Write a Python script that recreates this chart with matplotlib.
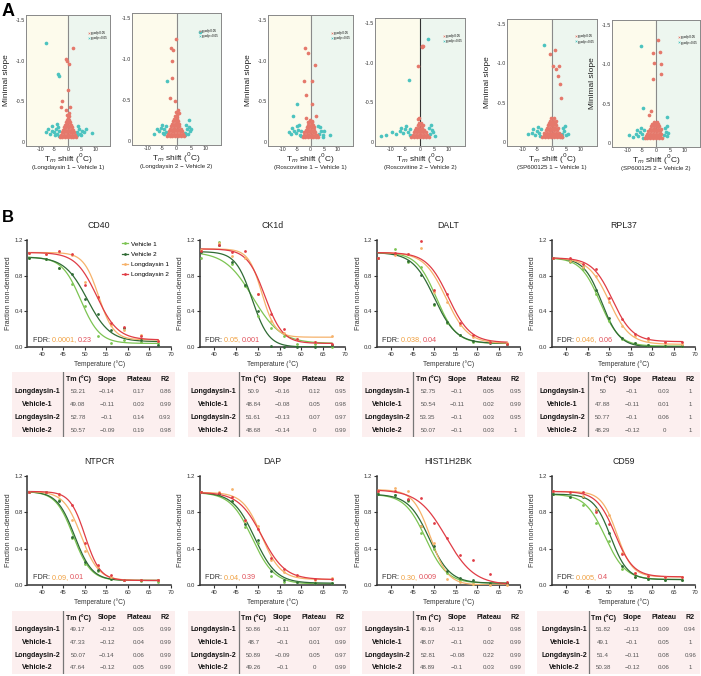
import matplotlib.pyplot as plt
import numpy as np
from matplotlib.patches import Rectangle
from matplotlib.lines import Line2D

plt.rcParams['font.family'] = ['Liberation Sans', 'DejaVu Sans']

# ---------------- panel A data (Tm shift, minimal slope) ----------------
a_subtitles = ['(Longdaysin 1 \u2212 Vehicle 1)', '(Longdaysin 2 \u2212 Vehicle 2)',
               '(Roscovitine 1 \u2212 Vehicle 1)', '(Roscovitine 2 \u2212 Vehicle 2)',
               '(SP600125 1 \u2212 Vehicle 1)', '(SP600125 2 \u2212 Vehicle 2)']
a_has_ylabel = [True, False, True, False, True, True]

a1_red_x = [-3.0, -2.1, -1.0, 0.0, 1.1, 2.0, 2.9,
            -2.5, -1.5, -0.5, 0.5, 1.5, 2.6,
            -2.3, -1.3, -0.4, 0.6, 1.6, 2.3,
            -1.9, -1.0, 0.1, 1.0, 1.9,
            -1.6, -0.6, 0.4, 1.4,
            -1.2, -0.3, 0.6, 1.2,
            -0.9, 0.0, 0.9,
            -0.5, 0.4,
            0.0, -0.2, 0.3,
            1.7, -0.7, -0.35, 0.2, -0.1, -2.1, 0.8, -2.7, -0.6, 0.2]
a1_red_y = [-0.06, -0.06, -0.06, -0.06, -0.06, -0.06, -0.06,
            -0.09, -0.09, -0.09, -0.09, -0.09, -0.09,
            -0.12, -0.12, -0.12, -0.12, -0.12, -0.12,
            -0.15, -0.15, -0.15, -0.15, -0.15,
            -0.18, -0.18, -0.18, -0.18,
            -0.21, -0.21, -0.21, -0.21,
            -0.24, -0.24, -0.24,
            -0.27, -0.27,
            -0.30, -0.33, -0.32,
            -1.16, -1.02, -1.00, -0.96, -0.64, -0.50, -0.43, -0.43, -0.39, -0.35]
a1_teal_x = [-8.2, -7.3, -6.5, -5.8, -5.0, -4.4, -3.9, -3.5, -6.0, -4.8, -3.6, -4.1,
             3.4, 3.9, 4.5, 5.2, 6.0, 6.8, 3.6, 4.8, 8.9, -3.3, 3.2, -8.1, -3.8, -3.5]
a1_teal_y = [-0.12, -0.16, -0.10, -0.14, -0.12, -0.16, -0.10, -0.14, -0.19, -0.08, -0.18, -0.22,
             -0.12, -0.16, -0.10, -0.14, -0.12, -0.16, -0.20, -0.08, -0.11, -0.07, -0.08, -1.21, -0.83, -0.81]

a2_red_x = [-3.4, -2.4, -1.4, -0.4, 0.6, 1.6, 2.5,
            -2.9, -1.9, -0.9, 0.1, 1.1, 2.1,
            -2.6, -1.7, -0.8, 0.2, 1.2, 2.0,
            -2.2, -1.3, -0.4, 0.5, 1.4,
            -1.8, -0.9, 0.0, 0.9,
            -1.5, -0.6, 0.3, 0.8,
            -1.1, -0.3, 0.5,
            -0.8, 0.1,
            -0.4, 0.2, -0.1,
            -0.2, -2.0, -1.2, -1.6, -1.4, -2.3, -0.5, 0.6, 0.9, 0.1]
a2_red_y = [-0.06, -0.06, -0.06, -0.06, -0.06, -0.06, -0.06,
            -0.09, -0.09, -0.09, -0.09, -0.09, -0.09,
            -0.12, -0.12, -0.12, -0.12, -0.12, -0.12,
            -0.15, -0.15, -0.15, -0.15, -0.15,
            -0.18, -0.18, -0.18, -0.18,
            -0.21, -0.21, -0.21, -0.21,
            -0.24, -0.24, -0.24,
            -0.27, -0.27,
            -0.30, -0.32, -0.35,
            -1.24, -1.13, -1.11, -0.98, -0.77, -0.52, -0.49, -0.38, -0.34, -0.29]
a2_teal_x = [-7.8, -6.2, -5.5, -4.8, -4.2, -3.8, -5.0, -6.8, -4.5, 3.0, 3.6, 4.1, 4.8,
             3.3, 4.4, -3.6, 2.8, 5.2, 8.3, -3.2, 4.2]
a2_teal_y = [-0.08, -0.12, -0.16, -0.10, -0.14, -0.18, -0.20, -0.14, -0.08, -0.10, -0.14, -0.08, -0.12,
             -0.19, -0.17, -0.11, -0.07, -0.15, -1.33, -0.73, -0.25]

a3_red_x = [-2.8, -1.9, -0.9, 0.1, 1.0, 2.0, 2.8,
            -2.4, -1.4, -0.4, 0.6, 1.6, 2.4,
            -2.2, -1.2, -0.2, 0.8, 1.7,
            -1.8, -0.8, 0.2, 1.2,
            -1.4, -0.4, 0.6, 1.3,
            -1.0, 0.0, 0.9,
            -0.6, 0.4,
            -0.2, 0.6, -0.9,
            -2.1, -1.0, 1.8, -2.4, 0.45, -1.5, 0.4, 1.9, -1.5]
a3_red_y = [-0.06, -0.06, -0.06, -0.06, -0.06, -0.06, -0.06,
            -0.09, -0.09, -0.09, -0.09, -0.09, -0.09,
            -0.12, -0.12, -0.12, -0.12, -0.12,
            -0.15, -0.15, -0.15, -0.15,
            -0.18, -0.18, -0.18, -0.18,
            -0.21, -0.21, -0.21,
            -0.24, -0.24,
            -0.27, -0.26, -0.25,
            -1.15, -1.09, -0.94, -0.75, -0.75, -0.58, -0.47, -0.32, -0.29]
a3_teal_x = [-8.0, -7.0, -6.2, -5.4, -4.6, -3.9, -3.3, -6.6, -5.0, -4.2, 3.2, 3.8, 4.4, 5.0,
             3.5, 4.6, -3.6, 2.9, -5.0, -6.5, 7.2]
a3_teal_y = [-0.12, -0.10, -0.14, -0.11, -0.15, -0.09, -0.13, -0.17, -0.19, -0.21, -0.10, -0.14, -0.09, -0.13,
             -0.18, -0.06, -0.07, -0.20, -0.47, -0.32, -0.08]

a4_red_x = [-3.0, -2.0, -1.0, 0.0, 1.0, 2.0, 3.0,
            -2.5, -1.5, -0.5, 0.5, 1.5, 2.5,
            -2.1, -1.1, -0.1, 0.9, 1.9,
            -1.7, -0.7, 0.3, 1.3,
            -1.3, -0.3, 0.7,
            -0.8, 0.2, 0.9,
            -0.4, 0.4,
            0.6, 1.1, 0.85, -0.8, -0.6, -0.2]
a4_red_y = [-0.06, -0.06, -0.06, -0.06, -0.06, -0.06, -0.06,
            -0.09, -0.09, -0.09, -0.09, -0.09, -0.09,
            -0.12, -0.12, -0.12, -0.12, -0.12,
            -0.15, -0.15, -0.15, -0.15,
            -0.18, -0.18, -0.18,
            -0.21, -0.21, -0.21,
            -0.24, -0.24,
            -1.21, -1.21, -1.20, -0.95, -0.29, -0.30]
a4_teal_x = [-13.4, -11.7, -9.5, -8.2, -7.0, -6.0, -5.1, -4.3, -3.6, -6.5, -4.8, -3.4,
             3.5, 4.1, 5.1, 4.6, 3.2, 3.9, 2.9, -3.7]
a4_teal_y = [-0.08, -0.09, -0.13, -0.10, -0.14, -0.11, -0.16, -0.12, -0.09, -0.18, -0.20, -0.17,
             -0.10, -0.15, -0.08, -0.12, -0.18, -0.21, -1.29, -0.78]

a5_red_x = [-3.4, -2.4, -1.4, -0.4, 0.6, 1.6, 2.6, 3.5,
            -2.9, -1.9, -0.9, 0.1, 1.1, 2.1, 3.0,
            -2.6, -1.6, -0.6, 0.4, 1.4, 2.4,
            -2.2, -1.2, -0.2, 0.8, 1.8,
            -1.8, -0.8, 0.2, 1.2, 2.0,
            -1.5, -0.5, 0.5, 1.4,
            -1.0, 0.0, 1.0,
            -0.6, 0.4, 1.3,
            -0.2, 0.7,
            1.0, -0.7, 0.2, 1.3, 2.5, 1.9, 2.6, 3.1]
a5_red_y = [-0.06, -0.06, -0.06, -0.06, -0.06, -0.06, -0.06, -0.06,
            -0.09, -0.09, -0.09, -0.09, -0.09, -0.09, -0.09,
            -0.12, -0.12, -0.12, -0.12, -0.12, -0.12,
            -0.15, -0.15, -0.15, -0.15, -0.15,
            -0.18, -0.18, -0.18, -0.18, -0.18,
            -0.21, -0.21, -0.21, -0.21,
            -0.24, -0.24, -0.24,
            -0.27, -0.27, -0.27,
            -0.30, -0.30,
            -1.17, -1.12, -0.96, -0.92, -0.96, -0.84, -0.73, -0.56]
a5_teal_x = [-8.3, -7.0, -6.0, -5.2, -4.5, -3.9, -6.4, -4.8, 3.6, 4.2, 4.9, 5.4, 3.8, 4.5, -4.2, 3.3, -2.9]
a5_teal_y = [-0.10, -0.12, -0.09, -0.14, -0.11, -0.16, -0.17, -0.19, -0.10, -0.14, -0.09, -0.10, -0.18, -0.20,
             -0.08, -0.07, -1.23]

a6_red_x = [-4.0, -3.0, -2.0, -1.0, 0.0, 1.0, 2.0,
            -3.5, -2.5, -1.5, -0.5, 0.5, 1.5,
            -3.1, -2.1, -1.1, -0.1, 0.9, 1.8,
            -2.7, -1.7, -0.7, 0.3, 1.3,
            -2.2, -1.2, -0.2, 0.8, 1.6,
            -1.8, -0.8, 0.2, 1.1,
            -1.3, -0.3, 0.6,
            -0.8, 0.2,
            0.6, 1.3, -0.9, -0.6, 1.7, 1.9, -0.9, -1.9, -2.4]
a6_red_y = [-0.06, -0.06, -0.06, -0.06, -0.06, -0.06, -0.06,
            -0.09, -0.09, -0.09, -0.09, -0.09, -0.09,
            -0.12, -0.12, -0.12, -0.12, -0.12, -0.12,
            -0.15, -0.15, -0.15, -0.15, -0.15,
            -0.18, -0.18, -0.18, -0.18, -0.18,
            -0.21, -0.21, -0.21, -0.21,
            -0.24, -0.24, -0.24,
            -0.27, -0.27,
            -1.31, -1.15, -1.14, -1.02, -1.00, -0.88, -0.81, -0.41, -0.35]
a6_teal_x = [-9.4, -8.0, -7.0, -6.2, -5.5, -4.8, -4.1, -6.6, -5.2, 2.8, 3.4, 4.0, 4.4, 3.1, 3.8, -4.5,
             -5.3, -4.7, 3.9]
a6_teal_y = [-0.10, -0.08, -0.12, -0.09, -0.14, -0.11, -0.16, -0.17, -0.19, -0.10, -0.14, -0.09, -0.13,
             -0.19, -0.21, -0.07, -1.23, -0.44, -0.33]

# ---------------- panel B data (melting curves) ----------------
temps = [37, 41, 44, 47, 50, 53, 56, 59, 63, 67]
proteins = ['CD40', 'CK1d', 'DALT', 'RPL37', 'NTPCR', 'DAP', 'HIST1H2BK', 'CD59']
series_names = ['Vehicle 1', 'Vehicle 2', 'Longdaysin 1', 'Longdaysin 2']
fdr_l1 = ['0.0001', '0.05', '0.038', '0.046', '0.09', '0.04', '0.30', '0.005']
fdr_l2 = ['0.23', '0.001', '0.04', '0.06', '0.01', '0.39', '0.009', '0.4']

# points, order: Vehicle 1, Vehicle 2, Longdaysin 1, Longdaysin 2
cd40_v1 = [1.0, 0.99, 0.89, 0.71, 0.46, 0.12, 0.045, 0.075, 0.055, 0.04]
cd40_v2 = [1.0, 0.99, 0.89, 0.82, 0.54, 0.375, 0.19, 0.21, 0.08, 0.02]
cd40_l1 = [1.05, 1.04, 1.06, 1.03, 0.73, 0.56, 0.25, 0.195, 0.14, 0.07]
cd40_l2 = [1.05, 1.04, 1.08, 1.04, 0.69, 0.56, 0.27, 0.225, 0.12, 0.07]
ck1d_v1 = [1.0, 1.18, 0.93, 0.68, 0.35, 0.21, 0.12, 0.03, 0.03, 0.0]
ck1d_v2 = [1.07, 1.14, 0.95, 0.69, 0.4, 0.01, 0.0, 0.0, 0.0, 0.02]
ck1d_l1 = [1.09, 1.17, 1.02, 1.0, 0.6, 0.29, 0.16, 0.09, 0.06, 0.12]
ck1d_l2 = [1.08, 1.14, 1.07, 1.08, 0.6, 0.37, 0.2, 0.09, 0.06, 0.03]
dalt_v1 = [1.0, 1.1, 0.95, 0.9, 0.47, 0.27, 0.13, 0.06, 0.06, 0.03]
dalt_v2 = [1.0, 1.04, 0.96, 0.81, 0.48, 0.28, 0.14, 0.07, 0.05, 0.03]
dalt_l1 = [1.0, 1.03, 1.04, 1.11, 0.62, 0.5, 0.25, 0.11, 0.06, 0.04]
dalt_l2 = [1.0, 1.05, 1.04, 1.19, 0.64, 0.59, 0.27, 0.13, 0.06, 0.03]
rpl37_v1 = [1.0, 0.95, 0.88, 0.6, 0.29, 0.09, 0.04, 0.02, 0.01, 0.01]
rpl37_v2 = [1.0, 0.96, 0.9, 0.64, 0.33, 0.1, 0.04, 0.02, 0.01, 0.01]
rpl37_l1 = [1.0, 0.97, 0.9, 0.8, 0.5, 0.24, 0.12, 0.08, 0.04, 0.03]
rpl37_l2 = [1.0, 1.0, 0.93, 0.88, 0.55, 0.31, 0.15, 0.1, 0.06, 0.06]
ntpcr_v1 = [1.02, 1.02, 0.94, 0.52, 0.23, 0.15, 0.07, 0.06, 0.04, 0.03]
ntpcr_v2 = [1.02, 1.02, 0.93, 0.53, 0.25, 0.17, 0.07, 0.06, 0.05, 0.05]
ntpcr_l1 = [1.02, 1.02, 0.99, 0.72, 0.37, 0.21, 0.09, 0.06, 0.05, 0.05]
ntpcr_l2 = [1.02, 1.02, 1.0, 0.88, 0.46, 0.22, 0.11, 0.06, 0.05, 0.05]
dap_v1 = [1.02, 1.0, 0.93, 0.64, 0.46, 0.1, 0.03, 0.03, 0.02, 0.02]
dap_v2 = [1.02, 1.0, 0.93, 0.67, 0.5, 0.15, 0.05, 0.03, 0.02, 0.02]
dap_l1 = [1.02, 1.02, 1.06, 0.7, 0.65, 0.28, 0.14, 0.1, 0.06, 0.08]
dap_l2 = [1.02, 1.01, 0.97, 0.72, 0.62, 0.3, 0.18, 0.11, 0.07, 0.07]
hist_v1 = [1.0, 0.99, 0.92, 0.57, 0.4, 0.13, 0.06, 0.01, 0.02, 0.02]
hist_v2 = [1.0, 0.99, 0.94, 0.65, 0.43, 0.15, 0.08, 0.06, 0.02, 0.02]
hist_l1 = [1.04, 1.07, 1.04, 0.65, 0.46, 0.07, 0.03, 0.01, 0.0, 0.0]
hist_l2 = [1.04, 1.03, 0.95, 0.96, 0.68, 0.52, 0.33, 0.28, 0.12, 0.03]
cd59_v1 = [1.0, 0.97, 0.88, 0.68, 0.48, 0.18, 0.09, 0.07, 0.06, 0.06]
cd59_v2 = [1.0, 0.97, 0.97, 0.83, 0.57, 0.21, 0.09, 0.07, 0.06, 0.06]
cd59_l1 = [1.03, 1.02, 0.98, 0.84, 0.77, 0.35, 0.13, 0.1, 0.09, 0.09]
cd59_l2 = [1.03, 1.02, 1.02, 0.8, 0.67, 0.34, 0.13, 0.1, 0.09, 0.09]

# fitted curve top / bottom, order: Vehicle 1, Vehicle 2, Longdaysin 1, Longdaysin 2
cd40_top, cd40_bottom = [1.01, 1.01, 1.06, 1.06], [0.04, 0.06, 0.08, 0.08]
ck1d_top, ck1d_bottom = [1.07, 1.07, 1.1, 1.1], [0.04, 0.0, 0.11, 0.04]
dalt_top, dalt_bottom = [1.06, 1.06, 1.06, 1.06], [0.04, 0.04, 0.04, 0.05]
rpl37_top, rpl37_bottom = [1.0, 1.0, 1.0, 1.0], [0.01, 0.0, 0.03, 0.06]
ntpcr_top, ntpcr_bottom = [1.03, 1.03, 1.03, 1.03], [0.05, 0.05, 0.05, 0.05]
dap_top, dap_bottom = [1.02, 1.02, 1.02, 1.02], [0.01, 0.02, 0.06, 0.06]
hist_top, hist_bottom = [1.0, 1.0, 1.05, 1.05], [0.02, 0.02, 0.0, 0.0]
cd59_top, cd59_bottom = [1.0, 1.0, 1.03, 1.03], [0.06, 0.06, 0.09, 0.09]

# tables, row order: Longdaysin-1, Vehicle-1, Longdaysin-2, Vehicle-2
table_rows = ['Longdaysin-1', 'Vehicle-1', 'Longdaysin-2', 'Vehicle-2']
table_header = ['Tm (\u00b0C)', 'Slope', 'Plateau', 'R2']
cd40_tm, cd40_slope = [53.21, 49.08, 52.78, 50.57], [-0.14, -0.11, -0.1, -0.09]
cd40_plateau, cd40_r2 = [0.17, 0.03, 0.14, 0.19], [0.86, 0.99, 0.93, 0.98]
ck1d_tm, ck1d_slope = [50.9, 48.84, 51.61, 48.68], [-0.16, -0.08, -0.13, -0.14]
ck1d_plateau, ck1d_r2 = [0.12, 0.05, 0.07, 0], [0.95, 0.98, 0.97, 0.99]
dalt_tm, dalt_slope = [52.75, 50.54, 53.35, 50.07], [-0.1, -0.11, -0.1, -0.1]
dalt_plateau, dalt_r2 = [0.05, 0.02, 0.03, 0.03], [0.95, 0.99, 0.95, 1]
rpl37_tm, rpl37_slope = [50, 47.88, 50.77, 48.29], [-0.1, -0.11, -0.1, -0.12]
rpl37_plateau, rpl37_r2 = [0.03, 0.01, 0.06, 0], [1, 1, 1, 1]
ntpcr_tm, ntpcr_slope = [49.17, 47.33, 50.07, 47.64], [-0.12, -0.12, -0.14, -0.12]
ntpcr_plateau, ntpcr_r2 = [0.05, 0.04, 0.06, 0.05], [0.99, 0.99, 0.99, 0.99]
dap_tm, dap_slope = [50.86, 48.7, 50.89, 49.26], [-0.11, -0.1, -0.09, -0.1]
dap_plateau, dap_r2 = [0.07, 0.01, 0.05, 0], [0.97, 0.99, 0.97, 0.99]
hist_tm, hist_slope = [49.16, 48.07, 52.81, 48.89], [-0.13, -0.1, -0.08, -0.1]
hist_plateau, hist_r2 = [0, 0.02, 0.22, 0.03], [0.98, 0.99, 0.99, 0.99]
cd59_tm, cd59_slope = [51.82, 49.1, 51.4, 50.38], [-0.13, -0.1, -0.11, -0.12]
cd59_plateau, cd59_r2 = [0.09, 0.05, 0.08, 0.06], [0.94, 1, 0.96, 1]

a_red = [(a1_red_x, a1_red_y), (a2_red_x, a2_red_y), (a3_red_x, a3_red_y),
         (a4_red_x, a4_red_y), (a5_red_x, a5_red_y), (a6_red_x, a6_red_y)]
a_teal = [(a1_teal_x, a1_teal_y), (a2_teal_x, a2_teal_y), (a3_teal_x, a3_teal_y),
          (a4_teal_x, a4_teal_y), (a5_teal_x, a5_teal_y), (a6_teal_x, a6_teal_y)]
b_points = [[cd40_v1, cd40_v2, cd40_l1, cd40_l2], [ck1d_v1, ck1d_v2, ck1d_l1, ck1d_l2],
            [dalt_v1, dalt_v2, dalt_l1, dalt_l2], [rpl37_v1, rpl37_v2, rpl37_l1, rpl37_l2],
            [ntpcr_v1, ntpcr_v2, ntpcr_l1, ntpcr_l2], [dap_v1, dap_v2, dap_l1, dap_l2],
            [hist_v1, hist_v2, hist_l1, hist_l2], [cd59_v1, cd59_v2, cd59_l1, cd59_l2]]
b_top = [cd40_top, ck1d_top, dalt_top, rpl37_top, ntpcr_top, dap_top, hist_top, cd59_top]
b_bottom = [cd40_bottom, ck1d_bottom, dalt_bottom, rpl37_bottom,
            ntpcr_bottom, dap_bottom, hist_bottom, cd59_bottom]
b_tables = [(cd40_tm, cd40_slope, cd40_plateau, cd40_r2), (ck1d_tm, ck1d_slope, ck1d_plateau, ck1d_r2),
            (dalt_tm, dalt_slope, dalt_plateau, dalt_r2), (rpl37_tm, rpl37_slope, rpl37_plateau, rpl37_r2),
            (ntpcr_tm, ntpcr_slope, ntpcr_plateau, ntpcr_r2), (dap_tm, dap_slope, dap_plateau, dap_r2),
            (hist_tm, hist_slope, hist_plateau, hist_r2), (cd59_tm, cd59_slope, cd59_plateau, cd59_r2)]

RED_A = '#e5786b'
TEAL_A = '#4cc3bf'
series_colors = ['#7cc452', '#2f6b35', '#f6b26b', '#e03c45']
# which table row holds the fit parameters of each series
series_to_row = [1, 3, 0, 2]
PINK = '#fcefef'

W, H = 701, 676
fig = plt.figure(figsize=(W / 100, H / 100), dpi=100)


def px_axes(x0, y0, x1, y1):
    return fig.add_axes([x0 / W, 1 - y1 / H, (x1 - x0) / W, (y1 - y0) / H])


def fmt(v):
    return '{:g}'.format(v).replace('-', '\u2212')


# ---------------- panel A ----------------
a_boxes = [(26, 15, 110, 146), (132, 13, 221, 145), (268, 15, 353, 146),
           (375, 18, 465, 146), (507, 19, 597, 146), (612, 20, 700, 147)]
for i, (x0, y0, x1, y1) in enumerate(a_boxes):
    ax = px_axes(x0, y0, x1, y1)
    ax.set_xlim(-15.5, 15.5)
    ax.set_ylim(0.05, -1.56)
    ax.axvspan(-15.5, 0, color='#fdfbec', zorder=0)
    ax.axvspan(0, 15.5, color='#edf6ef', zorder=0)
    ax.axvline(0, color='#333333' if i == 3 else '#8a8a8a', lw=0.8, zorder=1)
    tx, ty = a_teal[i]
    rx, ry = a_red[i]
    ax.scatter(tx, ty, s=7, color=TEAL_A, linewidths=0, zorder=2)
    ax.scatter(rx, ry, s=7, color=RED_A, linewidths=0, zorder=3)
    ax.set_xticks([-10, -5, 0, 5, 10])
    ax.set_xticklabels(['-10', '-5', '0', '5', '10'])
    ax.set_yticks([-1.5, -1.0, -0.5, 0])
    ax.set_yticklabels(['-1.5', '-1.0', '-0.5', '0'])
    ax.tick_params(length=0, pad=1.0, labelsize=3.8, colors='#333333')
    for sp in ax.spines.values():
        sp.set_color('#888888')
        sp.set_linewidth(0.7)
    hx = [Line2D([], [], marker='x', ls='', color=RED_A, ms=1.3, mew=0.4),
          Line2D([], [], marker='x', ls='', color=TEAL_A, ms=1.3, mew=0.4)]
    ax.legend(hx, ['p_adj<0.05', 'p_adj>=0.05'], fontsize=2.2, loc='upper right',
              bbox_to_anchor=(0.99, 0.89), frameon=False, handletextpad=0.1,
              labelspacing=0.35, borderpad=0, handlelength=0.8)
    hbox = y1 - y0
    ax.text(0.5, -12.5 / hbox, 'T$_m$ shift ($^0$C)', transform=ax.transAxes,
            ha='center', va='center', fontsize=6, color='#222222')
    ax.text(0.5, -21.5 / hbox, a_subtitles[i], transform=ax.transAxes,
            ha='center', va='center', fontsize=4.4, color='#222222')
    if a_has_ylabel[i]:
        ax.set_ylabel('Minimal slope', fontsize=6, color='#222222')
        ax.yaxis.set_label_coords(-16 / (x1 - x0), 0.5)

fig.text(2 / W, 1 - 11 / H, 'A', fontsize=13, fontweight='bold', va='center', ha='left')
fig.text(2 / W, 1 - 218 / H, 'B', fontsize=12, fontweight='bold', va='center', ha='left')

# ---------------- panel B ----------------
b_cols = [(27.5, 171), (200, 345), (377, 520), (552, 695)]
b_rows = [(240, 347), (476, 585)]
tbl_cols = [(12, 175), (188, 350), (362, 525), (537, 700)]
tbl_rows = [(372, 437), (611, 674)]
col_x = [0.155, 0.405, 0.583, 0.78, 0.94]

t_fit = np.linspace(37, 67, 200)
for p, name in enumerate(proteins):
    r, c = divmod(p, 4)
    x0, x1 = b_cols[c]
    y0, y1 = b_rows[r]
    ax = px_axes(x0, y0, x1, y1)
    tm, slope, plateau, r2 = b_tables[p]
    for s in range(4):
        row = series_to_row[s]
        top, bot = b_top[p][s], b_bottom[p][s]
        k = -4 * slope[row] / (top - bot)
        fit = bot + (top - bot) / (1 + np.exp(k * (t_fit - tm[row])))
        ax.plot(t_fit, fit, color=series_colors[s], lw=0.9, zorder=2 + s)
        ax.plot(temps, b_points[p][s], 'o', ms=2.0, color=series_colors[s],
                mew=0, zorder=6 + s, clip_on=False)
    ax.set_xlim(36.7, 70)
    ax.set_ylim(0, 1.2)
    ax.set_xticks([40, 45, 50, 55, 60, 65, 70])
    ax.set_yticks([0.0, 0.4, 0.8, 1.2])
    ax.set_yticklabels(['0.0', '0.4', '0.8', '1.2'])
    ax.tick_params(length=2.2, width=0.8, pad=1.2, labelsize=4.3, colors='#333333')
    for sp in ['top', 'right']:
        ax.spines[sp].set_visible(False)
    for sp in ['left', 'bottom']:
        ax.spines[sp].set_linewidth(1.1)
        ax.spines[sp].set_color('#333333')
    hpx = y1 - y0
    ax.text(0.5, 1 + 15 / hpx, name, transform=ax.transAxes, ha='center', va='center',
            fontsize=6.3, color='#222222')
    ax.text(0.5, -17 / hpx, 'Temperature (\u00b0C)', transform=ax.transAxes, ha='center',
            va='center', fontsize=4.8, color='#333333')
    ax.set_ylabel('Fraction non-denatured', fontsize=5.0, color='#333333')
    ax.yaxis.set_label_coords(-15.5 / (x1 - x0), 0.5)
    t0 = ax.text(0.035, 0.065, 'FDR: ', transform=ax.transAxes, ha='left', va='center',
                 fontsize=5.2, color='#333333')
    t1 = ax.annotate(fdr_l1[p] + ', ', xy=(1, 0), xycoords=t0, ha='left', va='bottom',
                     fontsize=5.2, color='#f0a040')
    ax.annotate(fdr_l2[p], xy=(1, 0), xycoords=t1, ha='left', va='bottom',
                fontsize=5.2, color='#e0505a')
    if p == 0:
        handles = [Line2D([], [], color=series_colors[s], lw=0.9, marker='o', ms=2.0, mew=0)
                   for s in range(4)]
        ax.legend(handles, series_names, fontsize=4.6, loc='upper left',
                  bbox_to_anchor=(0.66, 0.99), frameon=False, handlelength=0.9,
                  handletextpad=0.45, labelspacing=0.75, borderpad=0, borderaxespad=0)

    # table under the plot
    tx0, tx1 = tbl_cols[c]
    ty0, ty1 = tbl_rows[r]
    tax = px_axes(tx0, ty0, tx1, ty1)
    tax.set_xlim(0, 1)
    tax.set_ylim(5, 0)
    tax.axis('off')
    tax.add_patch(Rectangle((0, 0), 1, 5, color=PINK, zorder=0))
    sep = 0.32 if p == 7 else 0.313
    tax.plot([sep, sep], [0, 5], color='#777777', lw=0.9)
    for j, hdr in enumerate(table_header):
        tax.text(col_x[j + 1], 0.55, hdr, ha='center', va='center', fontsize=5,
                 fontweight='bold', color='#111111')
    for i, lab in enumerate(table_rows):
        yy = i + 1.5
        tax.text(col_x[0] + (0.015 if p == 7 else 0), yy, lab, ha='center', va='center',
                 fontsize=5, fontweight='bold', color='#111111')
        for j, vals in enumerate([tm, slope, plateau, r2]):
            tax.text(col_x[j + 1], yy, fmt(vals[i]), ha='center', va='center',
                     fontsize=4.4, color='#555555')

fig.savefig('out.png', dpi=100)
